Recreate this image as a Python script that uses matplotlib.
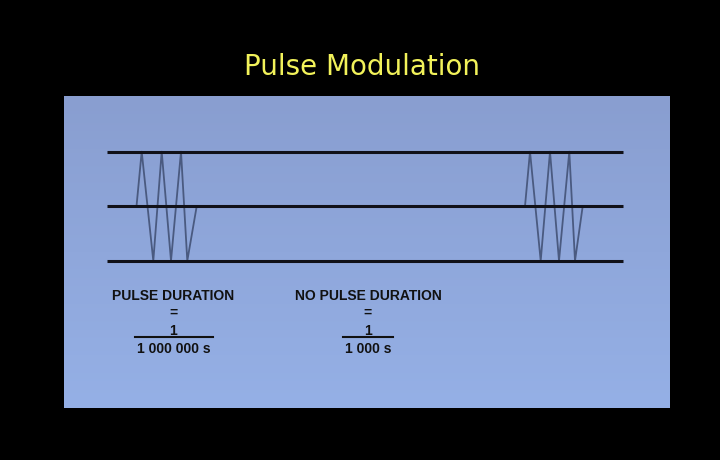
import matplotlib
matplotlib.use("Agg")
import matplotlib.pyplot as plt
import numpy as np

# picture content
title = "Pulse Modulation"
level_names = ["top", "middle", "bottom"]
level_y = [152, 206.5, 261]          # y of the three black lines (pixels)
line_x = [107, 623]

# triangle bursts: vertex x and which level each vertex sits on
burst1_x = [136.5, 141.7, 153.3, 161.7, 171.0, 181.0, 187.3, 196.7]
burst2_x = [525.0, 530.0, 540.7, 550.0, 559.0, 569.3, 575.0, 582.7]
burst_lv = [1, 0, 2, 0, 2, 0, 2, 1]

labels = ["PULSE DURATION", "NO PULSE DURATION"]
numer = ["1", "1"]
denom = ["1 000 000 s", "1 000 s"]
label_cx = [173.5, 368]
frac_half = [39, 25]

fig = plt.figure(figsize=(7.2, 4.605), dpi=100, facecolor="black")
ax = fig.add_axes([0, 0, 1, 1])
ax.set_xlim(0, 720)
ax.set_ylim(460, 0)
ax.axis("off")
ax.set_facecolor("black")

# blue panel with a light vertical gradient
top = np.array([0x89, 0x9e, 0xd0]) / 255
bot = np.array([0x95, 0xb0, 0xe6]) / 255
t = np.linspace(0, 1, 200)[:, None, None]
grad = top * (1 - t) + bot * t
grad = np.repeat(grad, 2, axis=1)
ax.imshow(grad, extent=(64, 670, 408, 97), aspect="auto", zorder=1)

ax.text(362, 67, title, color="#f2f25a", fontsize=20, ha="center",
        va="center", family="DejaVu Sans", zorder=5)

for y in level_y:
    ax.plot(line_x, [y, y], color="#111118", lw=2.2, zorder=3,
            solid_capstyle="butt")

for bx in (burst1_x, burst2_x):
    by = [level_y[i] for i in burst_lv]
    ax.plot(bx, by, color="#4a5a80", lw=1.3, zorder=2)

txt = dict(fontsize=10, fontweight="bold", family="Liberation Sans",
           ha="center", va="center", color="#111111", zorder=4)
for i in range(2):
    cx = label_cx[i]
    ax.text(cx, 295.5, labels[i], **txt)
    ax.text(cx, 312, "=", **txt)
    ax.text(cx, 330.5, numer[i], **txt)
    ax.plot([cx - frac_half[i], cx + frac_half[i]], [336.7, 336.7],
            color="#111111", lw=1.5, zorder=4)
    ax.text(cx, 348.5, denom[i], **txt)

fig.savefig("out.png", dpi=100, facecolor="black")
